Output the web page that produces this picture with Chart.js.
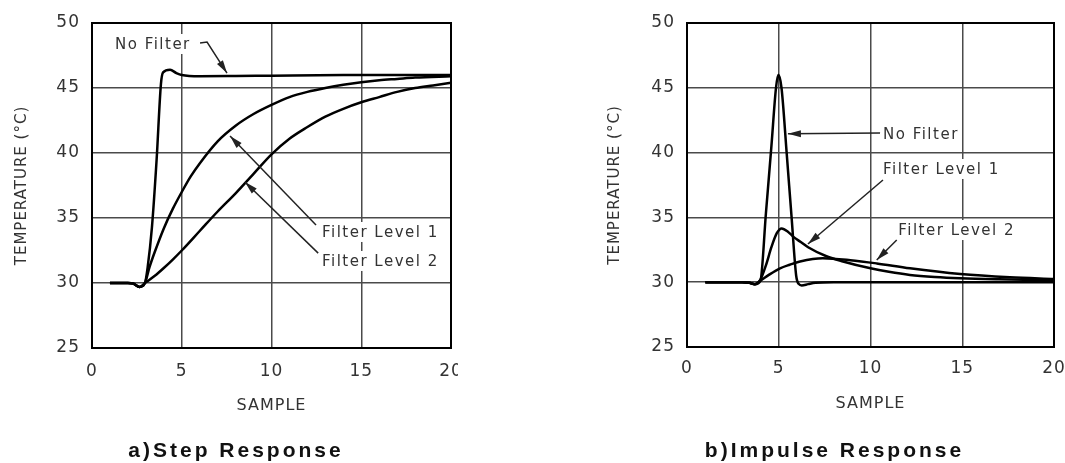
<!DOCTYPE html>
<html>
<head>
<meta charset="utf-8">
<script src="https://cdn.jsdelivr.net/npm/chart.js@4/dist/chart.umd.min.js"></script>
<style>
  html, body { margin: 0; padding: 0; background: #fff; }
  body { width: 1065px; height: 463px; position: relative; overflow: hidden; }
  canvas { position: absolute; top: 0; }
  #stepChart { left: 0; }
  #impulseChart { left: 590px; }
</style>
</head>
<body>
<canvas id="stepChart" width="458" height="463"></canvas>
<canvas id="impulseChart" width="475" height="463"></canvas>
<script>
// axis ticks
const xTicks = [0, 5, 10, 15, 20];
const yTicks = [25, 30, 35, 40, 45, 50];

// a) step response
const stepNoFilterX = [1, 2, 2.3, 2.65, 2.95, 3.1, 3.34, 3.6, 3.84, 3.96, 4.35, 4.7, 5, 6, 8, 10, 14, 20];
const stepNoFilterY = [30, 30, 29.95, 29.7, 30, 31.2, 34.3, 39.5, 45.3, 46.2, 46.4, 46.15, 46.0, 45.9, 45.92, 45.95, 46.0, 46.0];
const stepLevel1X = [1, 2, 2.3, 2.65, 2.95, 3.2, 3.5, 4, 4.5, 5, 5.5, 6, 7, 8, 9, 10, 11, 12, 13, 14, 15, 16, 17, 18, 20];
const stepLevel1Y = [30, 30, 29.95, 29.7, 30, 31.2, 32.4, 34.2, 35.7, 37.0, 38.2, 39.2, 40.9, 42.1, 43.0, 43.7, 44.3, 44.7, 45.0, 45.25, 45.45, 45.6, 45.7, 45.8, 45.9];
const stepLevel2X = [1, 2, 2.3, 2.65, 2.95, 3.5, 4, 4.5, 5, 6, 7, 8, 9, 10, 11, 12, 13, 14, 15, 16, 17, 18, 19, 20];
const stepLevel2Y = [30, 30, 29.95, 29.7, 30, 30.55, 31.15, 31.8, 32.5, 34.0, 35.5, 36.9, 38.4, 39.9, 41.1, 42.0, 42.8, 43.4, 43.9, 44.3, 44.7, 45.0, 45.2, 45.4];

// b) impulse response
const impNoFilterX = [1, 3, 3.4, 3.7, 4.0, 4.3, 4.6, 4.85, 4.98, 5.15, 5.43, 5.7, 5.95, 6.1, 6.25, 6.6, 7, 8, 12, 20];
const impNoFilterY = [30, 30, 29.95, 29.85, 30.1, 35.3, 40.5, 45.0, 46.0, 45.0, 40.0, 35.0, 30.5, 29.85, 29.75, 29.85, 29.95, 30, 30, 30];
const impLevel1X = [1, 3, 3.4, 3.7, 4.0, 4.3, 4.6, 4.9, 5.16, 5.5, 5.8, 6.2, 6.6, 7.6, 8.5, 10, 11, 12.15, 13.5, 14.9, 17, 20];
const impLevel1Y = [30, 30, 29.95, 29.85, 30.2, 31.3, 32.7, 33.8, 34.15, 33.9, 33.5, 33.1, 32.7, 32.0, 31.6, 31.07, 30.8, 30.56, 30.4, 30.3, 30.22, 30.15];
const impLevel2X = [1, 3, 3.4, 3.7, 3.98, 4.5, 5.07, 5.6, 6.16, 7.4, 8.9, 10.34, 12.15, 14.9, 17.6, 20];
const impLevel2Y = [30, 30, 29.95, 29.85, 30.1, 30.6, 31.07, 31.35, 31.6, 31.85, 31.7, 31.45, 31.07, 30.63, 30.38, 30.25];

// callout labels and arrows (in data units)
const stepLabels = [
  { text: 'No Filter', x: 1.28, y: 48.0 },
  { text: 'Filter Level 1', x: 12.81, y: 33.54 },
  { text: 'Filter Level 2', x: 12.81, y: 31.31 }
];
const stepArrows = [
  [[6.02, 48.46], [6.41, 48.54], [7.52, 46.15]],
  [[12.48, 34.46], [7.69, 41.3]],
  [[12.6, 32.3], [8.52, 37.77]]
];
const impLabels = [
  { text: 'No Filter', x: 10.68, y: 41.05 },
  { text: 'Filter Level 1', x: 10.68, y: 38.35 },
  { text: 'Filter Level 2', x: 11.51, y: 33.64 }
];
const impArrows = [
  [[10.52, 41.51], [5.5, 41.45]],
  [[10.68, 37.89], [6.59, 32.95]],
  [[11.43, 33.26], [10.34, 31.71]]
];

function points(xs, ys) {
  return xs.map((v, i) => ({ x: v, y: ys[i] }));
}

function curve(label, xs, ys) {
  return {
    label: label,
    data: points(xs, ys),
    borderColor: '#000',
    borderWidth: 2.5,
    pointRadius: 0,
    fill: false,
    cubicInterpolationMode: 'monotone'
  };
}

// frame, callouts and the caption under each chart
function notes(labels, arrows, caption) {
  return {
    id: 'notes',
    beforeLayout(chart) { chart.ctx.letterSpacing = '1px'; },
    beforeDraw(chart) { chart.ctx.letterSpacing = '1px'; },
    afterDatasetsDraw(chart) {
      const ctx = chart.ctx;
      const a = chart.chartArea;
      const xs = chart.scales.x, ys = chart.scales.y;
      ctx.save();
      ctx.strokeStyle = '#000';
      ctx.lineWidth = 2;
      ctx.strokeRect(a.left, a.top, a.right - a.left, a.bottom - a.top);

      ctx.font = '15px "DejaVu Sans"';
      ctx.letterSpacing = '1.5px';
      ctx.textBaseline = 'alphabetic';
      ctx.textAlign = 'left';
      labels.forEach(l => {
        const px = xs.getPixelForValue(l.x), py = ys.getPixelForValue(l.y);
        const w = ctx.measureText(l.text).width;
        ctx.fillStyle = '#fff';
        ctx.fillRect(px - 3, py - 15, w + 4, 20);
        ctx.fillStyle = '#333';
        ctx.fillText(l.text, px, py);
      });

      ctx.strokeStyle = '#222';
      ctx.fillStyle = '#222';
      ctx.lineWidth = 1.5;
      arrows.forEach(path => {
        const p = path.map(q => [xs.getPixelForValue(q[0]), ys.getPixelForValue(q[1])]);
        ctx.beginPath();
        ctx.moveTo(p[0][0], p[0][1]);
        for (let i = 1; i < p.length; i++) ctx.lineTo(p[i][0], p[i][1]);
        ctx.stroke();
        const t = p[p.length - 1], s = p[p.length - 2];
        const ang = Math.atan2(t[1] - s[1], t[0] - s[0]);
        const len = 13, half = 3.5;
        ctx.beginPath();
        ctx.moveTo(t[0], t[1]);
        ctx.lineTo(t[0] - len * Math.cos(ang) + half * Math.sin(ang), t[1] - len * Math.sin(ang) - half * Math.cos(ang));
        ctx.lineTo(t[0] - len * Math.cos(ang) - half * Math.sin(ang), t[1] - len * Math.sin(ang) + half * Math.cos(ang));
        ctx.closePath();
        ctx.fill();
      });

      ctx.font = 'bold 21px "Liberation Sans"';
      ctx.letterSpacing = '3px';
      ctx.textAlign = 'center';
      ctx.fillStyle = '#111';
      ctx.fillText(caption, chart.width / 2 + 7, 457);
      ctx.restore();
    }
  };
}

function makeChart(id, datasets, labels, arrows, caption, yWidth, xHeight, padRight, yTitlePad, xTitlePad, xTickPad) {
  return new Chart(document.getElementById(id), {
    type: 'line',
    data: { datasets: datasets },
    options: {
      responsive: false,
      animation: false,
      devicePixelRatio: 1,
      layout: { padding: { top: 23, right: padRight, bottom: 0, left: 0 } },
      plugins: { legend: { display: false }, tooltip: { enabled: false } },
      scales: {
        x: {
          type: 'linear',
          min: 0, max: 20,
          afterBuildTicks: s => { s.ticks = xTicks.map(v => ({ value: v })); },
          afterFit: s => { s.height = xHeight; s.paddingLeft = 0; s.paddingRight = 0; },
          grid: { color: '#4a4a4a', lineWidth: 1.5, drawTicks: false },
          border: { display: false },
          ticks: { color: '#333', padding: xTickPad, maxRotation: 0, font: { family: 'DejaVu Sans', size: 17 } },
          title: { display: true, text: 'SAMPLE', color: '#333', padding: { top: 0, bottom: xTitlePad }, font: { family: 'DejaVu Sans', size: 16 } }
        },
        y: {
          type: 'linear',
          min: 25, max: 50,
          afterBuildTicks: s => { s.ticks = yTicks.map(v => ({ value: v })); },
          afterFit: s => { s.width = yWidth; s.paddingTop = 0; s.paddingBottom = 0; },
          grid: { color: '#4a4a4a', lineWidth: 1.5, drawTicks: false },
          border: { display: false },
          ticks: { color: '#333', padding: 12, font: { family: 'DejaVu Sans', size: 17 } },
          title: { display: true, text: 'TEMPERATURE (°C)', color: '#333', padding: { top: yTitlePad, bottom: 0 }, font: { family: 'DejaVu Sans', size: 15 } }
        }
      }
    },
    plugins: [notes(labels, arrows, caption)]
  });
}

makeChart('stepChart', [
  curve('No Filter', stepNoFilterX, stepNoFilterY),
  curve('Filter Level 1', stepLevel1X, stepLevel1Y),
  curve('Filter Level 2', stepLevel2X, stepLevel2Y)
], stepLabels, stepArrows, 'a)Step Response', 92, 115, 7, 13, 48, 13);

makeChart('impulseChart', [
  curve('No Filter', impNoFilterX, impNoFilterY),
  curve('Filter Level 1', impLevel1X, impLevel1Y),
  curve('Filter Level 2', impLevel2X, impLevel2Y)
], impLabels, impArrows, 'b)Impulse Response', 97, 116, 11, 16, 50, 11);
</script>
</body>
</html>
